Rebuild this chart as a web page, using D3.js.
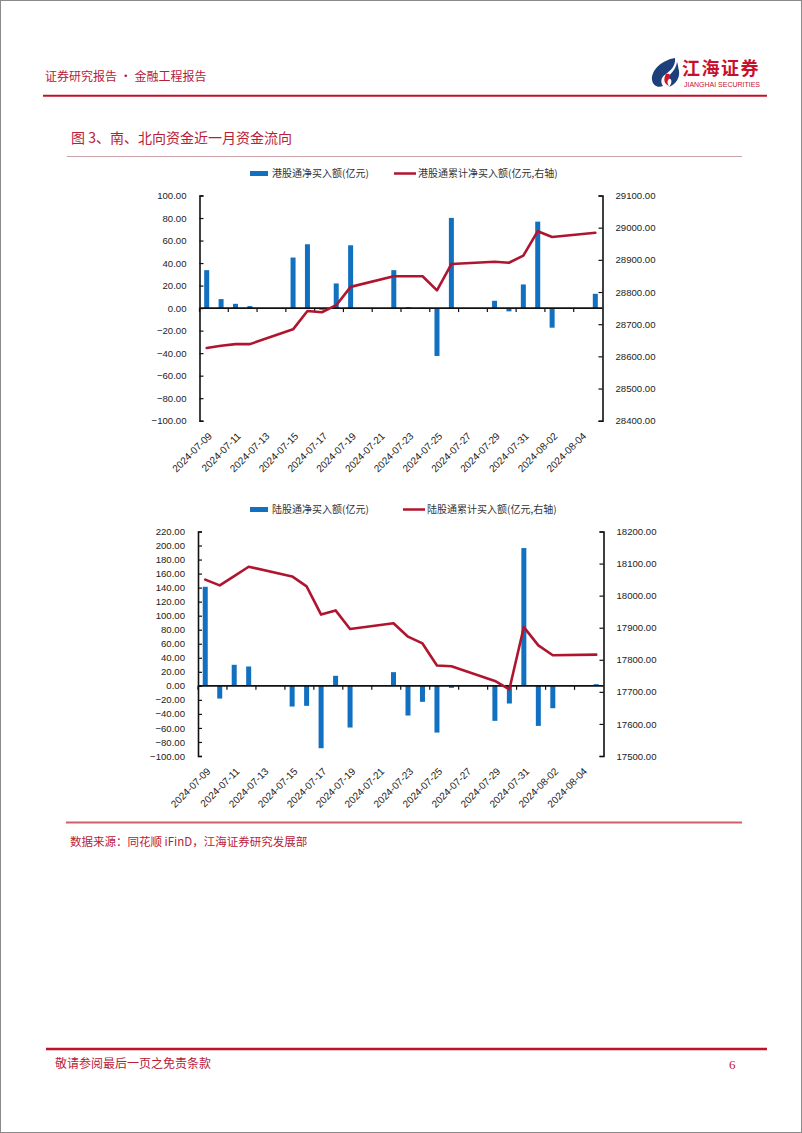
<!DOCTYPE html>
<html>
<head>
<meta charset="utf-8">
<script src="https://cdn.jsdelivr.net/npm/d3@7"></script>
<style>
  html, body { margin: 0; padding: 0; background: #fff; }
  svg { display: block; }
</style>
</head>
<body>
<svg id="page" width="802" height="1133"></svg>
<script>
// ---------------- data ----------------
const tradeDates = ["2024-07-09","2024-07-10","2024-07-11","2024-07-12","2024-07-15","2024-07-16","2024-07-17","2024-07-18","2024-07-19","2024-07-22","2024-07-23","2024-07-24","2024-07-25","2024-07-26","2024-07-29","2024-07-30","2024-07-31","2024-08-01","2024-08-02","2024-08-05"];
const tickLabels = ["2024-07-09","2024-07-11","2024-07-13","2024-07-15","2024-07-17","2024-07-19","2024-07-21","2024-07-23","2024-07-25","2024-07-27","2024-07-29","2024-07-31","2024-08-02","2024-08-04"];
const axisStart = "2024-07-08T12:00";
const axisEnd = "2024-08-05T12:00";

// 港股通 (southbound)
const hkNet = [33.7, 8.0, 3.8, 1.8, 44.9, 56.7, -1.5, 21.9, 55.8, 33.7, 0.9, 0.3, -42.5, 80.1, 6.5, -2.9, 21.0, 76.8, -17.4, 12.7];
const hkCum = [28626, 28633, 28638, 28638, 28684, 28741, 28737, 28759, 28816, 28849, 28849, 28849, 28805, 28887, 28894, 28891, 28913, 28989, 28971, 28984];
const hkLeftTicks = [-100, -80, -60, -40, -20, 0, 20, 40, 60, 80, 100];
const hkRightTicks = [28400, 28500, 28600, 28700, 28800, 28900, 29000, 29100];

// 陆股通 (northbound)
const sbNet = [141.2, -18.1, 30.0, 27.6, -29.5, -28.5, -88.9, 14.3, -59.4, 19.5, -42.3, -22.8, -66.6, -2.9, -49.9, -25.2, 196.4, -57.1, -31.9, 2.4];
const sbCum = [18050, 18032, 18061, 18090, 18060, 18029, 17941, 17954, 17896, 17914, 17872, 17851, 17782, 17780, 17734, 17708, 17902, 17845, 17814, 17816];
const sbLeftTicks = [-100, -80, -60, -40, -20, 0, 20, 40, 60, 80, 100, 120, 140, 160, 180, 200, 220];
const sbRightTicks = [17500, 17600, 17700, 17800, 17900, 18000, 18100, 18200];

const legend1 = ["港股通净买入额(亿元)", "港股通累计净买入额(亿元,右轴)"];
const legend2 = ["陆股通净买入额(亿元)", "陆股通累计买入额(亿元,右轴)"];

// ---------------- styles ----------------
const RED = "#b8203a";
const BAR = "#1170c0";
const LINE = "#b0152f";
const CJK = "'Noto Sans CJK SC', 'Noto Sans', sans-serif";
const NUM = "'Liberation Sans', Arial, sans-serif";

const parseDay = d3.utcParse("%Y-%m-%d");
const parseT = d3.utcParse("%Y-%m-%dT%H:%M");
const halfDay = 12 * 3600 * 1000;

const svg = d3.select("#page");
svg.append("rect").attr("x", 0).attr("y", 0).attr("width", 802).attr("height", 1133).attr("fill", "#fff");
svg.append("rect").attr("x", 0.5).attr("y", 0.5).attr("width", 801).attr("height", 1132)
  .attr("fill", "none").attr("stroke", "#8a8a8a").attr("stroke-width", 1);

// ---------------- header ----------------
svg.append("text").attr("x", 45).attr("y", 81).attr("font-family", CJK).attr("font-size", 12)
  .attr("fill", RED).text("证券研究报告 · 金融工程报告");
svg.append("line").attr("x1", 43).attr("x2", 767).attr("y1", 95.8).attr("y2", 95.8)
  .attr("stroke", "#c0102a").attr("stroke-width", 2);

// logo
const logo = svg.append("g");
logo.append("path").attr("d", "M675,58 C662,60 651,70 652,80 C653,86 658,88 663,86 C660,82 661,77 666,74 C670,71 676,66 675,58 Z")
  .attr("fill", "#1d3f7a");
logo.append("path").attr("d", "M677,62 C676,70 670,74 667,78 C672,78 673,82 669,87 C676,84 680,78 679,71 C678,67 678,64 677,62 Z")
  .attr("fill", "#1d3f7a");
logo.append("path").attr("d", "M666,74 C670,73 672,76 669,79 C667,81 667,83 669,86 C664,84 663,79 666,74 Z")
  .attr("fill", "#d0142c");
logo.append("text").attr("x", 682).attr("y", 75).attr("font-family", CJK).attr("font-size", 18)
  .attr("font-weight", "bold").attr("fill", "#c8102e").attr("letter-spacing", 1.5).text("江海证券");
logo.append("text").attr("x", 684).attr("y", 87).attr("font-family", NUM).attr("font-size", 7.2)
  .attr("fill", "#c8102e").attr("textLength", 76).attr("lengthAdjust", "spacingAndGlyphs").text("JIANGHAI SECURITIES");

// title
svg.append("text").attr("x", 71).attr("y", 143).attr("font-family", CJK).attr("font-size", 14)
  .attr("fill", RED).text("图 3、南、北向资金近一月资金流向");
svg.append("line").attr("x1", 67).attr("x2", 742).attr("y1", 156.5).attr("y2", 156.5)
  .attr("stroke", "#c9a3a8").attr("stroke-width", 1);

// ---------------- chart drawing ----------------
function drawChart(cfg) {
  const g = svg.append("g");
  const x = d3.scaleUtc().domain([parseT(axisStart), parseT(axisEnd)]).range([cfg.left, cfg.right]);
  const yL = d3.scaleLinear().domain(d3.extent(cfg.leftTicks)).range([cfg.bottom, cfg.top]);
  const yR = d3.scaleLinear().domain(d3.extent(cfg.rightTicks)).range([cfg.bottom, cfg.top]);
  const dates = tradeDates.map(parseDay);
  const barW = 5;

  // legend
  const ly = cfg.legendY;
  g.append("rect").attr("x", 250).attr("y", ly - 2.5).attr("width", 18).attr("height", 5).attr("fill", BAR);
  g.append("text").attr("x", 272).attr("y", ly + 3.5).attr("font-family", CJK).attr("font-size", 10)
    .attr("fill", "#333").text(cfg.legend[0]);
  g.append("line").attr("x1", cfg.legendLineX).attr("x2", cfg.legendLineX + 22).attr("y1", ly).attr("y2", ly)
    .attr("stroke", LINE).attr("stroke-width", 2.5);
  g.append("text").attr("x", cfg.legendLineX + 24).attr("y", ly + 3.5).attr("font-family", CJK).attr("font-size", 10)
    .attr("fill", "#333").text(cfg.legend[1]);

  // bars
  g.append("g").selectAll("rect").data(cfg.net).join("rect")
    .attr("x", (d, i) => x(dates[i]) - barW / 2)
    .attr("width", barW)
    .attr("y", d => Math.min(yL(d), yL(0)))
    .attr("height", d => Math.abs(yL(d) - yL(0)))
    .attr("fill", BAR);

  // left axis
  const left = d3.axisLeft(yL).tickValues(cfg.leftTicks).tickFormat(d3.format(".2f")).tickSize(-4).tickPadding(13);
  const la = g.append("g").attr("transform", `translate(${cfg.left},0)`).call(left);
  // right axis
  const right = d3.axisRight(yR).tickValues(cfg.rightTicks).tickFormat(d3.format(".2f")).tickSize(-4).tickPadding(13);
  const ra = g.append("g").attr("transform", `translate(${cfg.right},0)`).call(right);
  [la, ra].forEach(a => {
    a.select(".domain").attr("stroke", "#111").attr("stroke-width", 1.6);
    a.selectAll(".tick line").attr("stroke", "#111").attr("stroke-width", 1.2);
    a.selectAll(".tick text").attr("font-family", NUM).attr("font-size", 9.6).attr("fill", "#222");
  });

  // zero axis line + category ticks
  const y0 = yL(0);
  const tickDates = tickLabels.map(parseDay);
  g.append("line").attr("x1", cfg.left).attr("x2", cfg.right).attr("y1", y0).attr("y2", y0)
    .attr("stroke", "#111").attr("stroke-width", 1.6);
  g.append("g").selectAll("line").data(tickDates).join("line")
    .attr("x1", d => x(new Date(d.getTime() - halfDay))).attr("x2", d => x(new Date(d.getTime() - halfDay)))
    .attr("y1", y0).attr("y2", y0 + 4).attr("stroke", "#111").attr("stroke-width", 1.2);

  // rotated date labels at bottom
  g.append("g").selectAll("text").data(tickLabels).join("text")
    .attr("transform", d => `translate(${x(parseDay(d)) + 6},${cfg.bottom + 16}) rotate(-45)`)
    .attr("text-anchor", "end").attr("font-family", NUM).attr("font-size", 10).attr("fill", "#222")
    .text(d => d);

  // cumulative line (right axis)
  const line = d3.line().x((d, i) => x(dates[i])).y(d => yR(d));
  g.append("path").datum(cfg.cum).attr("d", line).attr("fill", "none")
    .attr("stroke", LINE).attr("stroke-width", 2.6).attr("stroke-linejoin", "round").attr("stroke-linecap", "round");
}

drawChart({
  left: 199.5, right: 602.5, top: 195.5, bottom: 420.7,
  net: hkNet, cum: hkCum, leftTicks: hkLeftTicks, rightTicks: hkRightTicks,
  legend: legend1, legendY: 173.5, legendLineX: 394
});

drawChart({
  left: 198, right: 603.5, top: 531.5, bottom: 756,
  net: sbNet, cum: sbCum, leftTicks: sbLeftTicks, rightTicks: sbRightTicks,
  legend: legend2, legendY: 509.5, legendLineX: 403
});

// ---------------- source ----------------
svg.append("line").attr("x1", 66).attr("x2", 742).attr("y1", 822.5).attr("y2", 822.5)
  .attr("stroke", "#cf5f6c").attr("stroke-width", 2);
svg.append("text").attr("x", 70).attr("y", 846).attr("font-family", CJK).attr("font-size", 11.5)
  .attr("fill", RED).text("数据来源：同花顺 iFinD，江海证券研究发展部");

// ---------------- footer ----------------
svg.append("line").attr("x1", 46).attr("x2", 767).attr("y1", 1049).attr("y2", 1049)
  .attr("stroke", "#c0102a").attr("stroke-width", 2.4);
svg.append("text").attr("x", 55).attr("y", 1068).attr("font-family", CJK).attr("font-size", 12)
  .attr("fill", RED).text("敬请参阅最后一页之免责条款");
svg.append("text").attr("x", 729).attr("y", 1069).attr("font-family", "'Liberation Serif', serif").attr("font-size", 13)
  .attr("fill", RED).text("6");
</script>
</body>
</html>
